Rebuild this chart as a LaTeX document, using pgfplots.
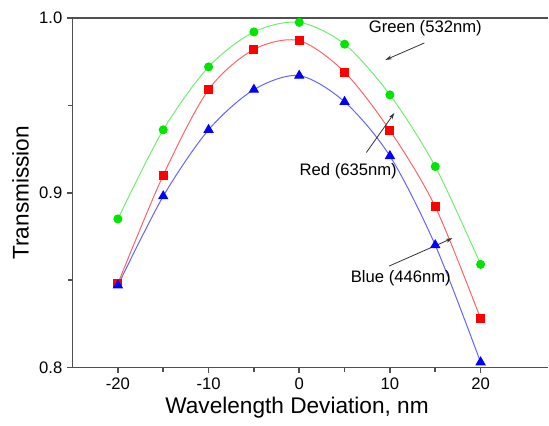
\documentclass[border=0pt]{standalone}
\usepackage{fontspec}
\setmainfont{Liberation Sans}
\usepackage{pgfplots}
\pgfplotsset{compat=1.18}
\usetikzlibrary{arrows.meta}

\definecolor{gmark}{RGB}{0,230,0}
\definecolor{gline}{RGB}{110,240,110}
\definecolor{rmark}{RGB}{255,0,0}
\definecolor{rline}{RGB}{255,100,100}
\definecolor{bmark}{RGB}{0,0,255}
\definecolor{bline}{RGB}{100,100,255}
\definecolor{axgray}{RGB}{80,80,80}

\begin{document}
\begin{tikzpicture}
\path (-54.5pt,-43.5pt) rectangle (357.2pt,276pt);
\begin{axis}[
    width=357.2pt, height=262.5pt,
    scale only axis,
    xmin=-25, xmax=27.45,
    ymin=0.8, ymax=1.0,
    axis lines=left,
    axis line style={draw=none},
    xtick={-20,-10,0,10,20},
    ytick={0.8,0.9,1.0},
    tick style={draw=none},
    yticklabel style={/pgf/number format/fixed, /pgf/number format/fixed zerofill,
        /pgf/number format/precision=1},
    /pgf/number format/assume math mode=true,
    ticklabel style={font=\fontsize{12.5}{14}\selectfont},
    xticklabel style={yshift=-2pt},
    yticklabel style={xshift=-2pt},
    xlabel={Wavelength Deviation, nm},
    ylabel={Transmission},
    label style={font=\fontsize{17}{20}\selectfont},
    xlabel style={yshift=1pt, xshift=-10pt},
    ylabel style={yshift=1pt},
    clip=false,
]
% frame: left, bottom and top spines (the right one lies beyond the picture)
\draw[axgray, line width=1.3pt] (axis cs:-25,1.0) -- (axis cs:27.45,1.0);
\draw[axgray, line width=1.3pt] (axis cs:-25,0.8) -- (axis cs:27.45,0.8);
\draw[axgray, line width=1.3pt] (axis cs:-25,0.8) -- (axis cs:-25,1.0);
% ticks, pointing outwards
\pgfplotsinvokeforeach{-20,-10,0,10,20}{
  \draw[axgray, line width=1.2pt] (axis cs:#1,0.8) -- ++(0pt,-4.5pt);}
\pgfplotsinvokeforeach{-15,-5,5,15}{
  \draw[axgray, line width=1.2pt] (axis cs:#1,0.8) -- ++(0pt,-3.5pt);}
\pgfplotsinvokeforeach{0.8,0.9,1.0}{
  \draw[axgray, line width=1.2pt] (axis cs:-25,#1) -- ++(-4.5pt,0pt);}
\pgfplotsinvokeforeach{0.85,0.95}{
  \draw[axgray, line width=1.2pt] (axis cs:-25,#1) -- ++(-3.5pt,0pt);}
% Green (532nm)
\addplot[gline, line width=0.75pt, smooth, mark=*, mark size=3pt,
    mark options={gmark, fill=gmark, draw=gmark}] coordinates {
(-20,0.885) (-15,0.936) (-10,0.972) (-5,0.992) (0,0.9975)
(5,0.985) (10,0.956) (15,0.915) (20,0.859)
};
% Red (635nm)
\addplot[rline, line width=0.75pt, smooth, mark=square*, mark size=3pt,
    mark options={rmark, fill=rmark, draw=rmark}] coordinates {
(-20,0.848) (-15,0.910) (-10,0.959) (-5,0.982) (0,0.987)
(5,0.969) (10,0.9356) (15,0.892) (20,0.828)
};
% Blue (446nm)
\addplot[bline, line width=0.75pt, smooth, mark=triangle*, mark size=3.8pt,
    mark options={bmark, fill=bmark, draw=bmark}] coordinates {
(-20,0.847) (-15,0.898) (-10,0.936) (-5,0.959) (0,0.967)
(5,0.952) (10,0.921) (15,0.870) (20,0.803)
};

\node[font=\fontsize{12.5}{14}\selectfont] at (axis cs:13.9,0.9943) {Green (532nm)};
\draw[-{Stealth[length=5pt,width=3pt]}, black!80, line width=0.6pt]
    (axis cs:13.8,0.9857) -- (axis cs:9.5,0.976);
\node[font=\fontsize{12.5}{14}\selectfont] at (axis cs:5.4,0.9126) {Red (635nm)};
\draw[-{Stealth[length=5pt,width=3pt]}, black!80, line width=0.6pt]
    (axis cs:7.4,0.923) -- (axis cs:10.5,0.9457);
\node[font=\fontsize{12.5}{14}\selectfont] at (axis cs:11.2,0.851) {Blue (446nm)};
\draw[-{Stealth[length=5pt,width=3pt]}, black!80, line width=0.6pt]
    (axis cs:9.9,0.858) -- (axis cs:16.9,0.874);
\end{axis}
\end{tikzpicture}
\end{document}
